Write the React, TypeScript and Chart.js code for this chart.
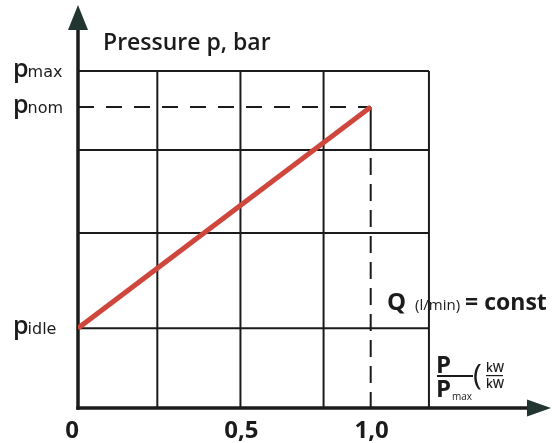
import React, { useEffect, useRef } from 'react';
import { Chart, registerables } from 'chart.js';

Chart.register(...registerables);

// ---- data (schematic units) ----
const X_MAX = 1.616; // end of the P/Pmax axis (arrow tip)
const Y_MAX = 119.6; // end of the pressure axis (arrow tip)
const gridX = [0.271, 0.555, 0.839, 1.199];
const gridY = [23.7, 51.9, 76.6, 100];
const pIdle = 23.7;
const pNom = 89.3;
const pMax = 100;
const powerRatio = [0, 1.0];
const pressure = [pIdle, pNom];
const xTickValues = [0, 0.555, 1.0];
const xTickLabels = ['0', '0,5', '1,0'];
const yLabelValues = [pMax, pNom, pIdle];
const yLabelSubs = ['max', 'nom', 'idle'];
const yTitle = 'Pressure p, bar';

const INK = '#1b1b1b';
const ARROW = '#223530';
const RED = '#cf473c';

const diagramPlugin = {
  id: 'diagram',
  beforeDatasetsDraw(chart: any) {
    const ctx = chart.ctx as CanvasRenderingContext2D;
    const xs = chart.scales.x;
    const ys = chart.scales.y;
    const X = (v: number) => xs.getPixelForValue(v);
    const Y = (v: number) => ys.getPixelForValue(v);
    const line = (a: number, b: number, c: number, d: number) => {
      ctx.beginPath();
      ctx.moveTo(a, b);
      ctx.lineTo(c, d);
      ctx.stroke();
    };
    const x0 = X(0);
    const y0 = Y(0);
    const right = X(gridX[gridX.length - 1]);
    const top = Y(pMax);
    ctx.save();
    ctx.strokeStyle = INK;
    ctx.lineWidth = 2;
    gridX.forEach((v) => line(X(v), top, X(v), y0));
    gridY.forEach((v) => line(x0, Y(v), right, Y(v)));
    // dashed guides to p_nom / 1,0
    ctx.setLineDash([16, 12]);
    line(x0, Y(pNom), X(1), Y(pNom));
    ctx.setLineDash([]);
    line(X(1), Y(pNom), X(1), Y(gridY[2]));
    ctx.setLineDash([17, 9]);
    line(X(1), Y(gridY[2]) + 8, X(1), y0);
    ctx.setLineDash([]);
    // axes
    ctx.lineWidth = 3.5;
    const yTop = Y(Y_MAX);
    const xEnd = X(X_MAX);
    line(x0, y0 + 1.7, x0, yTop + 24);
    line(x0 - 1.7, y0, xEnd - 24, y0);
    // arrows
    ctx.fillStyle = ARROW;
    ctx.beginPath();
    ctx.moveTo(x0, yTop);
    ctx.lineTo(x0 - 10, yTop + 25);
    ctx.lineTo(x0 + 10, yTop + 25);
    ctx.closePath();
    ctx.fill();
    ctx.beginPath();
    ctx.moveTo(xEnd, y0);
    ctx.lineTo(xEnd - 24, y0 - 8.5);
    ctx.lineTo(xEnd - 24, y0 + 8.5);
    ctx.closePath();
    ctx.fill();
    ctx.restore();
  },
  afterDraw(chart: any) {
    const ctx = chart.ctx as CanvasRenderingContext2D;
    const xs = chart.scales.x;
    const ys = chart.scales.y;
    const X = (v: number) => xs.getPixelForValue(v);
    const Y = (v: number) => ys.getPixelForValue(v);
    const x0 = X(0);
    const y0 = Y(0);
    ctx.save();
    ctx.fillStyle = INK;
    ctx.textBaseline = 'alphabetic';

    // title
    ctx.textAlign = 'left';
    ctx.font = '600 23px "Open Sans"';
    ctx.fillText(yTitle, x0 + 25, 50);

    // p labels
    yLabelValues.forEach((v, i) => {
      const base = Y(v) + 6;
      ctx.font = '600 25px "Open Sans"';
      ctx.fillText('p', 13, base);
      const w = ctx.measureText('p').width;
      ctx.font = '16px "DejaVu Sans"';
      ctx.fillText(yLabelSubs[i], 12 + w, base);
    });

    // x tick labels
    ctx.font = 'bold 24px "Open Sans"';
    xTickValues.forEach((v, i) => {
      if (i === 0) {
        ctx.textAlign = 'right';
        ctx.fillText(xTickLabels[i], X(v) + 1, y0 + 30);
      } else {
        ctx.textAlign = 'center';
        ctx.fillText(xTickLabels[i], X(v) + 1, y0 + 30);
      }
    });

    // Q (l/min) = const
    ctx.textAlign = 'left';
    let qx = 387;
    const qy = 310;
    ctx.font = 'bold 24px "Open Sans"';
    ctx.fillText('Q', qx, qy);
    qx += ctx.measureText('Q').width + 9;
    ctx.font = '15px "Open Sans"';
    ctx.fillText('(l/min)', qx, qy);
    qx += ctx.measureText('(l/min)').width + 5;
    ctx.font = 'bold 23px "Open Sans"';
    ctx.fillText('= const', qx, qy);

    // P / Pmax ( kW / kW
    const fx = 436;
    ctx.font = 'bold 24px "Open Sans"';
    ctx.fillText('P', fx, 373);
    ctx.fillText('P', fx, 397);
    ctx.font = '10px "Open Sans"';
    ctx.fillText('max', fx + 16, 400);
    ctx.fillRect(fx + 1, 375, 36, 2);
    ctx.font = '30px "Open Sans"';
    ctx.fillText('(', fx + 37, 385);
    ctx.font = '600 12px "Open Sans"';
    ctx.fillText('kW', fx + 50, 372);
    ctx.fillText('kW', fx + 50, 388);
    ctx.fillRect(fx + 50, 375, 17, 1.2);
    ctx.restore();
  },
};

export default function App() {
  const canvasRef = useRef<HTMLCanvasElement | null>(null);

  useEffect(() => {
    const canvas = canvasRef.current;
    if (!canvas) return;
    const chart = new Chart(canvas, {
      type: 'line',
      data: {
        datasets: [
          {
            label: 'p',
            data: powerRatio.map((x, i) => ({ x, y: pressure[i] })),
            borderColor: RED,
            borderWidth: 5,
            pointRadius: 0,
            borderCapStyle: 'butt',
            fill: false,
            tension: 0,
          },
        ],
      },
      options: {
        responsive: false,
        animation: false,
        devicePixelRatio: 1,
        layout: { padding: { left: 78, right: 1, top: 5, bottom: 35 } },
        scales: {
          x: { type: 'linear', min: 0, max: X_MAX, display: false },
          y: { type: 'linear', min: 0, max: Y_MAX, display: false },
        },
        plugins: {
          legend: { display: false },
          tooltip: { enabled: false },
        },
      },
      plugins: [diagramPlugin],
    });
    return () => chart.destroy();
  }, []);

  return (
    <div style={{ position: 'absolute', left: 0, top: 0, width: 552, height: 443, background: '#fff' }}>
      <canvas ref={canvasRef} width={552} height={443} />
    </div>
  );
}
